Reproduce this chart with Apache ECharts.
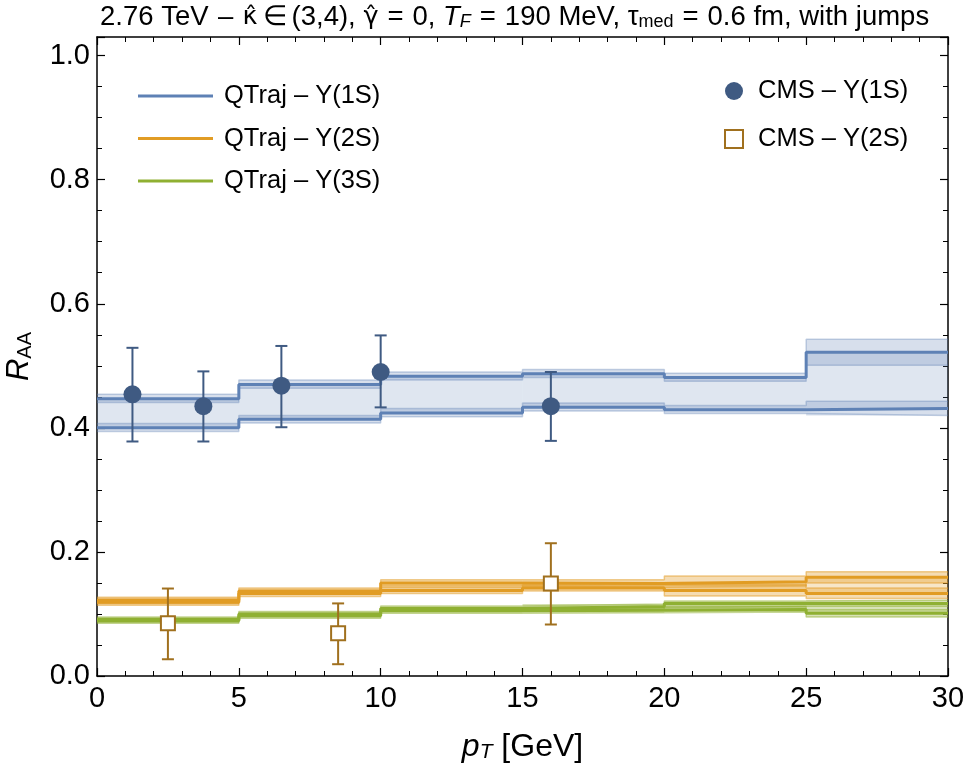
<!DOCTYPE html>
<html>
<head>
<meta charset="utf-8">
<script src="https://cdn.jsdelivr.net/npm/echarts@6/dist/echarts.min.js"></script>
<style>
  html, body { margin: 0; padding: 0; background: #fff; }
  #chart { width: 967px; height: 765px; }
</style>
</head>
<body>
<div id="chart"></div>
<script>
// bins in pT (GeV)
const binEdges = [0, 5, 10, 15, 20, 25, 30];
const xTicks = [0, 5, 10, 15, 20, 25, 30];
const yTicks = [0.0, 0.2, 0.4, 0.6, 0.8, 1.0];

// QTraj Y(1S): upper / lower curves with their bands
const y1sUp = [0.447, 0.470, 0.483, 0.487, 0.481, 0.522];
const y1sUpLo = [0.441, 0.464, 0.477, 0.481, 0.475, 0.501];
const y1sUpHi = [0.454, 0.477, 0.490, 0.494, 0.488, 0.543];
const y1sDn = [0.400, 0.414, 0.424, 0.433, 0.429, 0.431];
const y1sDnLo = [0.394, 0.408, 0.418, 0.427, 0.423, 0.420];
const y1sDnHi = [0.407, 0.420, 0.431, 0.440, 0.436, 0.443];

// QTraj Y(2S)
const y2sUp = [0.122, 0.137, 0.150, 0.149, 0.152, 0.159];
const y2sUpLo = [0.117, 0.132, 0.145, 0.143, 0.145, 0.150];
const y2sUpHi = [0.127, 0.142, 0.155, 0.155, 0.161, 0.168];
const y2sDn = [0.119, 0.133, 0.138, 0.142, 0.138, 0.133];
const y2sDnLo = [0.114, 0.128, 0.133, 0.137, 0.129, 0.125];
const y2sDnHi = [0.124, 0.138, 0.143, 0.147, 0.147, 0.142];

// QTraj Y(3S)
const y3sUp = [0.091, 0.100, 0.109, 0.112, 0.117, 0.117];
const y3sUpLo = [0.087, 0.096, 0.105, 0.107, 0.112, 0.112];
const y3sUpHi = [0.095, 0.104, 0.113, 0.116, 0.121, 0.122];
const y3sDn = [0.089, 0.097, 0.105, 0.106, 0.107, 0.101];
const y3sDnLo = [0.085, 0.093, 0.101, 0.102, 0.103, 0.095];
const y3sDnHi = [0.093, 0.101, 0.109, 0.110, 0.112, 0.107];

// CMS data
const cms1sX = [1.25, 3.75, 6.5, 10, 16];
const cms1sY = [0.454, 0.435, 0.468, 0.490, 0.435];
const cms1sLo = [0.378, 0.378, 0.401, 0.433, 0.379];
const cms1sHi = [0.529, 0.491, 0.532, 0.549, 0.490];
const cms2sX = [2.5, 8.5, 16];
const cms2sY = [0.085, 0.069, 0.149];
const cms2sLo = [0.027, 0.019, 0.083];
const cms2sHi = [0.141, 0.117, 0.214];

const BLUE = '#5E81B5', ORANGE = '#E19C24', GREEN = '#8FB032';
const CMS1 = '#3F5A82', CMS2 = '#A0701E';
const FONT = 'Liberation Sans, Arial, sans-serif';

function rgba(hex, a) {
  const n = parseInt(hex.slice(1), 16);
  return 'rgba(' + (n >> 16) + ',' + ((n >> 8) & 255) + ',' + (n & 255) + ',' + a + ')';
}

function stepData(vals) {
  return binEdges.map((x, i) => [x, vals[Math.min(i, vals.length - 1)]]);
}

function rectSeries(lo, hi, fill) {
  return {
    type: 'custom', silent: true, z: 1,
    data: lo.map((v, i) => [binEdges[i], binEdges[i + 1], v, hi[i]]),
    encode: { x: [0, 1], y: [2, 3] },
    renderItem: (params, api) => {
      const a = api.coord([api.value(0), api.value(3)]);
      const b = api.coord([api.value(1), api.value(2)]);
      return { type: 'rect', shape: { x: a[0], y: a[1], width: b[0] - a[0], height: b[1] - a[1] }, style: { fill: fill } };
    }
  };
}

function lineSeries(vals, color, width, z, name) {
  return {
    type: 'line', name: name, data: stepData(vals), step: 'end',
    symbol: 'none', silent: true, z: z,
    itemStyle: { color: color },
    lineStyle: { color: color, width: width }
  };
}

function curve(c, lo, hi, color, bandA, edgeA, name) {
  return [
    rectSeries(lo, hi, rgba(color, bandA)),
    lineSeries(lo, rgba(color, edgeA), 1.5, 2),
    lineSeries(hi, rgba(color, edgeA), 1.5, 2),
    lineSeries(c, color, 3, 3, name)
  ];
}

function errorSeries(xs, lo, hi, color) {
  return {
    type: 'custom', silent: true, z: 8,
    data: xs.map((x, i) => [x, lo[i], hi[i]]),
    encode: { x: 0, y: [1, 2] },
    renderItem: (params, api) => {
      const b = api.coord([api.value(0), api.value(1)]);
      const t = api.coord([api.value(0), api.value(2)]);
      const st = { stroke: color, lineWidth: 2 };
      return {
        type: 'group', children: [
          { type: 'line', shape: { x1: b[0], y1: b[1], x2: t[0], y2: t[1] }, style: st },
          { type: 'line', shape: { x1: b[0] - 6, y1: b[1], x2: b[0] + 6, y2: b[1] }, style: st },
          { type: 'line', shape: { x1: t[0] - 6, y1: t[1], x2: t[0] + 6, y2: t[1] }, style: st }
        ]
      };
    }
  };
}

const axisBase = {
  axisLine: { show: true, onZero: false, lineStyle: { color: '#000', width: 1.5 } },
  axisTick: { show: true, inside: true, length: 8, lineStyle: { color: '#000', width: 1.2 } },
  minorTick: { show: true, length: 5, lineStyle: { color: '#000', width: 1 } },
  splitLine: { show: false }
};

const xBase = Object.assign({}, axisBase, {
  type: 'value', min: xTicks[0], max: xTicks[xTicks.length - 1], interval: 5,
  minorTick: Object.assign({}, axisBase.minorTick, { splitNumber: 5 })
});
const yBase = Object.assign({}, axisBase, {
  type: 'value', min: yTicks[0], max: 1.03, interval: 0.2,
  minorTick: Object.assign({}, axisBase.minorTick, { splitNumber: 4 })
});

const legendText = { fontFamily: FONT, fontSize: 25.5, color: '#000', lineHeight: 30 };

const chart = echarts.init(document.getElementById('chart'));
chart.setOption({
  animation: false,
  backgroundColor: '#fff',
  title: {
    left: 100, top: 3, padding: 0,
    text: '2.76 TeV{op|–}{g|κ̂}{op|∈}(3,4), {g|γ̂}{op|=}0, {i|T}{isub|F}{op|=}190 MeV, τ{sub|med}{op|=}0.6 fm, with jumps',
    textStyle: {
      fontFamily: FONT, fontSize: 27.5, fontWeight: 'normal', color: '#000',
      rich: {
        op: { fontFamily: FONT, fontSize: 27.5, color: '#000', width: 34, align: 'center' },
        g: { fontFamily: 'DejaVu Sans', fontSize: 25.5, color: '#000' },
        i: { fontFamily: FONT, fontSize: 27.5, fontStyle: 'italic', color: '#000' },
        isub: { fontFamily: FONT, fontSize: 18, fontStyle: 'italic', color: '#000', verticalAlign: 'bottom', lineHeight: 12 },
        sub: { fontFamily: FONT, fontSize: 18, color: '#000', verticalAlign: 'bottom', lineHeight: 12 }
      }
    }
  },
  grid: { left: 97, right: 19, top: 37, bottom: 89, outerBoundsMode: 'none' },
  legend: [
    {
      orient: 'vertical', left: 138, top: 81, padding: 0,
      itemWidth: 75, itemHeight: 3, itemGap: 12.5, icon: 'rect',
      data: ['QTraj – Υ(1S)', 'QTraj – Υ(2S)', 'QTraj – Υ(3S)'],
      textStyle: Object.assign({ padding: [0, 0, 0, 6] }, legendText)
    },
    {
      orient: 'vertical', left: 724, top: 76, padding: 0,
      itemWidth: 18, itemHeight: 18, itemGap: 18,
      data: ['CMS – Υ(1S)', 'CMS – Υ(2S)'],
      textStyle: Object.assign({ padding: [0, 0, 0, 10] }, legendText)
    }
  ],
  xAxis: [
    Object.assign({}, xBase, {
      position: 'bottom',
      name: '{i|p}{sub|T} [GeV]', nameLocation: 'middle', nameGap: 55,
      nameTextStyle: {
        fontFamily: FONT, fontSize: 32, color: '#000',
        rich: {
          i: { fontFamily: FONT, fontSize: 32, fontStyle: 'italic', color: '#000' },
          sub: { fontFamily: FONT, fontSize: 21, fontStyle: 'italic', color: '#000', verticalAlign: 'bottom', lineHeight: 14 }
        }
      },
      axisLabel: { fontFamily: FONT, fontSize: 29, color: '#000', margin: 8 }
    }),
    Object.assign({}, xBase, { position: 'top', axisLabel: { show: false } })
  ],
  yAxis: [
    Object.assign({}, yBase, {
      position: 'left',
      name: '{i|R}{sub|AA}', nameLocation: 'middle', nameGap: 62, nameRotate: 90,
      nameTextStyle: {
        fontFamily: FONT, fontSize: 31, color: '#000',
        rich: {
          i: { fontFamily: FONT, fontSize: 31, fontStyle: 'italic', color: '#000' },
          sub: { fontFamily: FONT, fontSize: 20, color: '#000', verticalAlign: 'bottom', lineHeight: 14 }
        }
      },
      axisLabel: {
        fontFamily: FONT, fontSize: 29, color: '#000', margin: 7, showMaxLabel: false,
        formatter: v => v.toFixed(1)
      }
    }),
    Object.assign({}, yBase, { position: 'right', axisLabel: { show: false } })
  ],
  series: [].concat(
    rectSeries(y1sDn, y1sUp, rgba(BLUE, 0.2)),
    rectSeries(y2sDn, y2sUp, rgba(ORANGE, 0.25)),
    rectSeries(y3sDn, y3sUp, rgba(GREEN, 0.25)),
    curve(y1sUp, y1sUpLo, y1sUpHi, BLUE, 0.25, 0.35, 'QTraj – Υ(1S)'),
    curve(y1sDn, y1sDnLo, y1sDnHi, BLUE, 0.25, 0.35),
    curve(y2sUp, y2sUpLo, y2sUpHi, ORANGE, 0.35, 0.5, 'QTraj – Υ(2S)'),
    curve(y2sDn, y2sDnLo, y2sDnHi, ORANGE, 0.35, 0.5),
    curve(y3sUp, y3sUpLo, y3sUpHi, GREEN, 0.35, 0.5, 'QTraj – Υ(3S)'),
    curve(y3sDn, y3sDnLo, y3sDnHi, GREEN, 0.35, 0.5),
    errorSeries(cms1sX, cms1sLo, cms1sHi, CMS1),
    errorSeries(cms2sX, cms2sLo, cms2sHi, CMS2),
    {
      type: 'scatter', name: 'CMS – Υ(1S)', z: 10, silent: true,
      data: cms1sX.map((x, i) => [x, cms1sY[i]]),
      symbol: 'circle', symbolSize: 18,
      itemStyle: { color: CMS1, opacity: 1 }
    },
    {
      type: 'scatter', name: 'CMS – Υ(2S)', z: 10, silent: true,
      data: cms2sX.map((x, i) => [x, cms2sY[i]]),
      symbol: 'rect', symbolSize: 14,
      itemStyle: { color: '#fff', borderColor: CMS2, borderWidth: 2, opacity: 1 }
    }
  )
});
</script>
</body>
</html>
